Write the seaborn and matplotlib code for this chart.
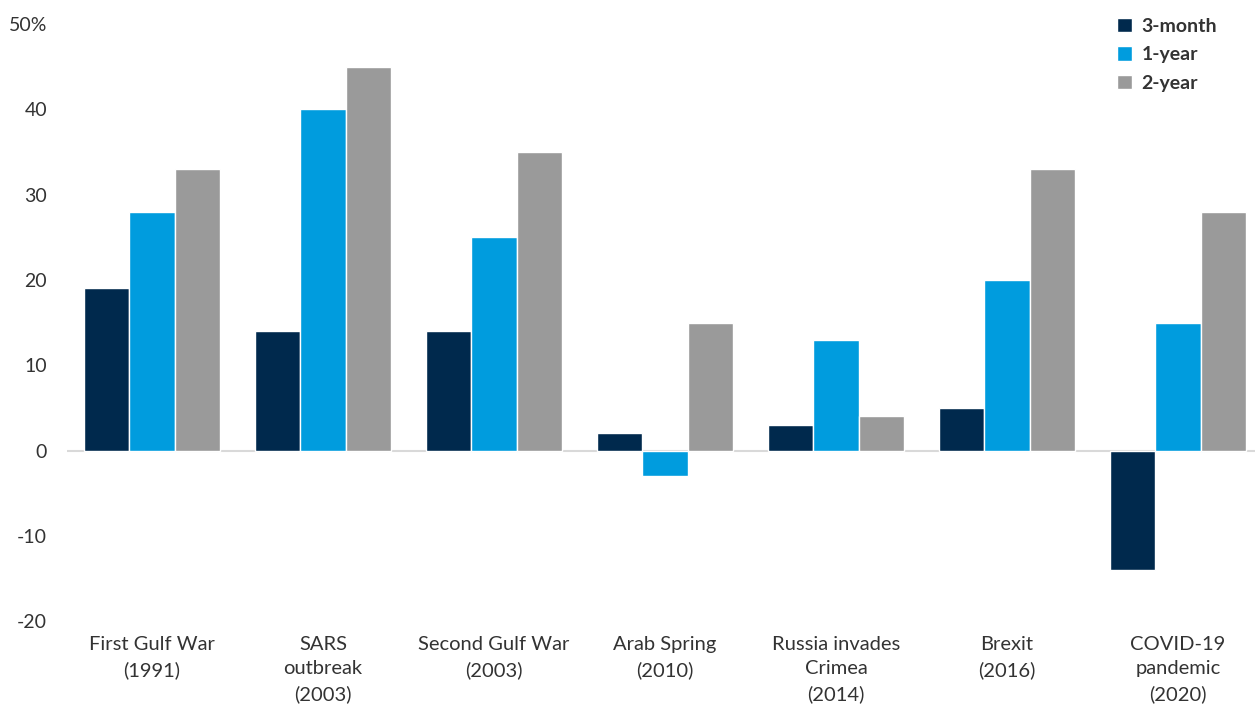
import numpy as np
import pandas as pd

import matplotlib
matplotlib.use('Agg')
import matplotlib.pyplot as plt
import seaborn as sns

# data
events = ["First Gulf War\n(1991)", "SARS\noutbreak\n(2003)", "Second Gulf War\n(2003)",
          "Arab Spring\n(2010)", "Russia invades\nCrimea\n(2014)", "Brexit\n(2016)",
          "COVID-19\npandemic\n(2020)"]
periods = ["3-month", "1-year", "2-year"]
three_month = [19, 14, 14, 2, 3, 5, -14]
one_year = [28, 40, 25, -3, 13, 20, 15]
two_year = [33, 45, 35, 15, 4, 33, 28]
yticks = [-20, -10, 0, 10, 20, 30, 40, 50]
ytick_labels = ["-20", "-10", "0", "10", "20", "30", "40", "50%"]

colors = ["#00294D", "#009CDE", "#9A9A9A"]

df = pd.DataFrame({
    "event": events * 3,
    "period": np.repeat(periods, len(events)),
    "value": three_month + one_year + two_year,
})

sns.set_style("white")
plt.rcParams['font.family'] = ['Lato', 'DejaVu Sans']

fig = plt.figure(figsize=(12.55, 7.09), dpi=100)
ax = fig.add_axes([0.053, 0.124, 0.947, 0.842])

sns.barplot(data=df, x="event", y="value", hue="period", order=events,
            hue_order=periods, palette=colors, saturation=1, width=0.8,
            edgecolor="white", linewidth=1, ax=ax)

ax.axhline(0, color="#d9d9d9", lw=1.5, zorder=0)
ax.set_ylim(-20, 50)
ax.set_xlim(-0.5, 6.45)
ax.set_yticks(yticks)
ax.set_yticklabels(ytick_labels)
ax.set_xlabel("")
ax.set_ylabel("")
ax.tick_params(axis='y', length=0, pad=14, labelsize=14, labelcolor="#333333")
ax.tick_params(axis='x', length=0, pad=11, labelsize=14.5, labelcolor="#333333")
for lbl in ax.get_xticklabels():
    lbl.set_linespacing(1.5)
sns.despine(ax=ax, left=True, bottom=True)

leg = ax.legend(loc="upper right", bbox_to_anchor=(0.983, 1.04), frameon=False,
                fontsize=14, handlelength=0.75, handleheight=0.75,
                handletextpad=0.5, labelspacing=0.6)
for t in leg.get_texts():
    t.set_fontweight("bold")
    t.set_color("#333333")

fig.savefig("out.png", dpi=100)
